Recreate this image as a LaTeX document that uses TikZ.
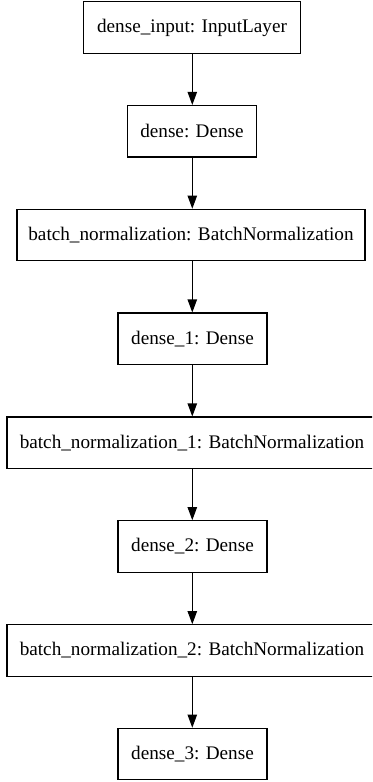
\documentclass[tikz,border=0pt]{standalone}
\usepackage{fontspec}
\setmainfont{Liberation Serif}
\newfontfamily\labelfont{Liberation Serif}
\usetikzlibrary{arrows.meta}
\begin{document}
\begin{tikzpicture}[x=0.75pt,y=-0.75pt,
  layer/.style={draw=black, line width=0.8pt, rectangle, inner sep=0pt,
    minimum height=38.6pt, font=\labelfont\fontsize{14.4pt}{16pt}\selectfont, fill=white},
  conn/.style={line width=0.8pt, -{Triangle[length=9.75pt,width=7pt]}}]
\useasboundingbox (0,0) rectangle (372,782);
\clip (0,0) rectangle (372,782);
\node[layer, minimum width=162.75pt] (n1) at (192,27.5) {dense\_input: InputLayer};
\node[layer, minimum width=96.75pt] (n2) at (192,131.25) {dense: Dense};
\node[layer, minimum width=261pt] (n3) at (191,235) {batch\_normalization: BatchNormalization};
\node[layer, minimum width=111.75pt] (n4) at (192.5,338.75) {dense\_1: Dense};
\node[layer, minimum width=277.5pt] (n5) at (192,442.75) {batch\_normalization\_1: BatchNormalization};
\node[layer, minimum width=111.75pt] (n6) at (192.5,546.5) {dense\_2: Dense};
\node[layer, minimum width=277.5pt] (n7) at (192,650.5) {batch\_normalization\_2: BatchNormalization};
\node[layer, minimum width=111.75pt] (n8) at (192.5,754) {dense\_3: Dense};
\draw[conn] (n1.south -| 192.3,0) -- (n2.north -| 192.3,0);
\draw[conn] (n2.south -| 192.3,0) -- (n3.north -| 192.3,0);
\draw[conn] (n3.south -| 192.3,0) -- (n4.north -| 192.3,0);
\draw[conn] (n4.south -| 192.3,0) -- (n5.north -| 192.3,0);
\draw[conn] (n5.south -| 192.3,0) -- (n6.north -| 192.3,0);
\draw[conn] (n6.south -| 192.3,0) -- (n7.north -| 192.3,0);
\draw[conn] (n7.south -| 192.3,0) -- (n8.north -| 192.3,0);
\end{tikzpicture}
\end{document}
